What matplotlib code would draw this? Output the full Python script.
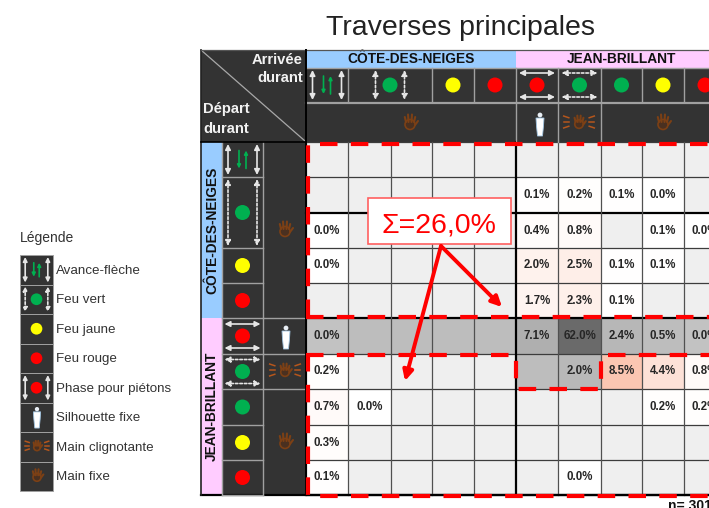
import matplotlib
matplotlib.use('Agg')
import matplotlib.pyplot as plt
import numpy as np
from matplotlib.colors import LinearSegmentedColormap
from matplotlib.patches import Circle, Ellipse, FancyArrowPatch, Polygon, Rectangle

plt.rcParams['font.family'] = ['Liberation Sans', 'DejaVu Sans']

# pourcentages, None = case vide
values = [
	[None, None, None, None, None, None, None, None, None, None],
	[None, None, None, None, None, 0.1, 0.2, 0.1, 0.0, None],
	[0.0, None, None, None, None, 0.4, 0.8, None, 0.1, 0.0],
	[0.0, None, None, None, None, 2.0, 2.5, 0.1, 0.1, None],
	[None, None, None, None, None, 1.7, 2.3, 0.1, None, None],
	[0.0, None, None, None, None, 7.1, 62.0, 2.4, 0.5, 0.0],
	[0.2, None, None, None, None, None, 2.0, 8.5, 4.4, 0.8],
	[0.7, 0.0, None, None, None, None, None, None, 0.2, 0.2],
	[0.3, None, None, None, None, None, None, None, None, None],
	[0.1, None, None, None, None, None, 0.0, None, None, None],
]
# cellules sur fond gris (meme rue, meme phase)
gray_cols_row6 = [5, 6]

street_names = ['CÔTE-DES-NEIGES', 'JEAN-BRILLANT']
top_kinds = ['fleche', 'vert', 'jaune', 'rouge', 'rouge_ped', 'vert_ped', 'vert2', 'jaune', 'rouge']
legend_labels = ['Avance-flèche', 'Feu vert', 'Feu jaune', 'Feu rouge', 'Phase pour piétons',
	'Silhouette fixe', 'Main clignotante', 'Main fixe']
legend_icons = ['fleche', 'vert', 'jaune', 'rouge', 'rouge_pv', 'silhouette', 'blink', 'main']
callout_text = 'Σ=26,0%'
sample_text = 'n= 3010'

# mise en page (pixels)
W, H = 709, 508
col_edges = np.array([306, 348, 391, 432, 474, 516, 558, 601, 642, 684, 726])
row_edges = np.array([142, 177, 213, 248, 283, 318, 354, 389, 425, 460, 495])
spans = [(0, 1), (1, 3), (3, 4), (4, 5), (5, 6), (6, 7), (7, 8), (8, 9), (9, 10)]
DARK = '#333333'
SEP = '#a0a0a0'
GREEN = '#00b050'
YELLOW = '#ffff00'
RED = '#ff0000'
BROWN = '#7c4015'

salmon = LinearSegmentedColormap.from_list('salmon', ['#ffffff', '#fbc6b2'])
grays = LinearSegmentedColormap.from_list('grays', ['#c2c2c2', '#a6a6a6', '#6a6a6a'])


def cell_color(r, c):
	v = values[r][c]
	is_gray = r == 5 or (r == 6 and c in gray_cols_row6)
	if is_gray:
		if v is None:
			return (0.74, 0.74, 0.74)
		return grays((v / 62.0) ** 0.5)[:3]
	if v is None:
		return (0.937, 0.937, 0.937)
	return salmon(min(v / 8.5, 1.0))[:3]


fig = plt.figure(figsize=(W / 100, H / 100), dpi=100)
ax = fig.add_axes([0, 0, 1, 1])
ax.set_xlim(0, W)
ax.set_ylim(H, 0)
ax.axis('off')


def box(x0, y0, x1, y1, fc, ec='none', lw=0, z=1):
	ax.add_patch(Rectangle((x0, y0), x1 - x0, y1 - y0, fc=fc, ec=ec, lw=lw, zorder=z))


def arrow(x0, y0, x1, y1, color='#e6e6e6', lw=1.2, ms=8, ls='-', style='<|-|>', z=5):
	ax.add_patch(FancyArrowPatch((x0, y0), (x1, y1), arrowstyle=style, mutation_scale=ms, color=color,
		lw=lw, linestyle=ls, shrinkA=0, shrinkB=0, zorder=z))


def dot(x, y, color, r=7.5):
	ax.add_patch(Circle((x, y), r, fc=color, ec='none', zorder=5))


def hand(x, y, s=1.0):
	ax.add_patch(Ellipse((x, y + 2.5 * s), 10 * s, 10 * s, fc='#4a3020', ec=BROWN, lw=1.2, zorder=5))
	for dx, top in zip([-4, -1.5, 1.5, 4], [-5, -7.5, -7.5, -5]):
		ax.plot([x + dx * s, x + dx * 1.3 * s], [y, y + top * s], color=BROWN, lw=1.5,
			solid_capstyle='round', zorder=5)
	ax.plot([x + 5 * s, x + 8 * s], [y + 3 * s, y - 1 * s], color=BROWN, lw=1.5, solid_capstyle='round', zorder=5)


def blink_hand(x, y, s=1.0):
	hand(x, y, s)
	for side in [-1, 1]:
		for dy, tilt in zip([-5, 0, 5], [-2, 0, 2]):
			ax.plot([x + side * 12 * s, x + side * 18 * s], [y + dy * s, y + (dy + tilt) * s], color='#b5561c',
				lw=1.1, zorder=5)


def silhouette(x, y, s=1.0):
	ax.add_patch(Circle((x, y - 9 * s), 2.4 * s, fc='#e8eef5', ec='none', zorder=5))
	ax.add_patch(Polygon([[x - 4 * s, y - 6 * s], [x + 4 * s, y - 6 * s], [x + 3.5 * s, y + 2 * s], [x + 2.5 * s, y + 12 * s],
		[x - 2.5 * s, y + 12 * s], [x - 3.5 * s, y + 2 * s]], fc='white', ec='#9fc3e0', lw=0.6, zorder=5))


def signal(kind, x0, y0, x1, y1, s=1.0):
	x, y = (x0 + x1) / 2, (y0 + y1) / 2
	if kind in ('rouge_ped', 'vert_ped'):
		ls = (0, (1.5, 1.2)) if kind == 'vert_ped' else '-'
		for side in [-1, 1]:
			arrow(x - 18, y + side * 12, x + 18, y + side * 12, ls=ls)
		dot(x, y, RED if kind == 'rouge_ped' else GREEN, 7.5)
		return
	if kind in ('fleche', 'vert', 'rouge_pv'):
		ls = (0, (1.5, 1.2)) if kind == 'vert' else '-'
		for side in [-1, 1]:
			arrow(x + side * 14.5 * s, y0 + 2, x + side * 14.5 * s, y1 - 2, ls=ls, ms=8 * s)
	if kind == 'fleche':
		arrow(x - 3.5 * s, y - 9 * s, x - 3.5 * s, y + 9 * s, color=GREEN, lw=1.2, ms=5, style='-|>')
		arrow(x + 3.5 * s, y + 9 * s, x + 3.5 * s, y - 9 * s, color=GREEN, lw=1.2, ms=5, style='-|>')
	elif kind in ('vert', 'vert2'):
		dot(x, y, GREEN, 7.5 * s)
	elif kind == 'jaune':
		dot(x, y, YELLOW, 7.5 * s)
	else:
		dot(x, y, RED, 7.5 * s)


# cellules du tableau
rgb = np.array([[cell_color(r, c) for c in range(len(col_edges) - 1)] for r in range(len(row_edges) - 1)])
ax.pcolormesh(col_edges, row_edges, rgb, zorder=1)

# grille
for y in row_edges:
	thick = y in (213, 318, 495)
	ax.plot([col_edges[0], col_edges[-1]], [y, y], color='black' if thick else '#3c3c3c', lw=1.6 if thick else 0.9, zorder=2)
for x in col_edges:
	thick = x == 516
	ax.plot([x, x], [row_edges[0], row_edges[-1]], color='black' if thick else '#505050', lw=1.6 if thick else 0.9, zorder=2)

# valeurs
for r, row in enumerate(values):
	for c, v in enumerate(row):
		if v is None:
			continue
		cx = (col_edges[c] + col_edges[c + 1]) / 2
		cy = (row_edges[r] + row_edges[r + 1]) / 2
		ax.text(cx, cy, f'{v:.1f}%', ha='center', va='center', fontsize=8.3, fontweight='bold', color='#262626',
			clip_on=True, zorder=3)

# en-tetes haut
box(201, 50, 726, 142, DARK)
box(306, 50, 516, 68, '#99ccff')
box(516, 50, 726, 68, '#ffccff')
ax.text(411, 59, street_names[0], ha='center', va='center', fontsize=9.9, fontweight='bold', color='#111111', zorder=6)
ax.text(621.5, 59, street_names[1], ha='center', va='center', fontsize=9.9, fontweight='bold', color='#111111', zorder=6)
for (a, b), kind in zip(spans, top_kinds):
	signal(kind, col_edges[a], 68, col_edges[b], 102)
	ax.plot([col_edges[b], col_edges[b]], [68, 102], color=SEP, lw=1.0, zorder=4)
ax.plot([306, 726], [68, 68], color=SEP, lw=1.0, zorder=4)
ax.plot([306, 726], [103, 103], color=SEP, lw=1.6, zorder=4)
for x in [516, 558, 601]:
	ax.plot([x, x], [104, 142], color=SEP, lw=1.0, zorder=4)
hand(410, 122)
silhouette(540, 124)
blink_hand(579, 122, 0.85)
hand(663, 122)

# coin
ax.plot([201, 305], [50, 141], color='#a8a8a8', lw=0.9, zorder=4)
ax.text(303, 60, 'Arrivée', ha='right', va='center', fontsize=10.6, fontweight='bold', color='#f2f2f2', zorder=6)
ax.text(303, 78, 'durant', ha='right', va='center', fontsize=10.6, fontweight='bold', color='#f2f2f2', zorder=6)
ax.text(203, 109, 'Départ', ha='left', va='center', fontsize=10.6, fontweight='bold', color='#f2f2f2', zorder=6)
ax.text(203, 129, 'durant', ha='left', va='center', fontsize=10.6, fontweight='bold', color='#f2f2f2', zorder=6)

# en-tetes gauche
box(201, 142, 306, 495, DARK)
box(201, 142, 222, 318, '#99ccff')
box(201, 318, 222, 495, '#ffccff')
ax.text(212, 230, street_names[0], rotation=90, ha='center', va='center', fontsize=9.9, fontweight='bold', color='#111111', zorder=6)
ax.text(212, 406.5, street_names[1], rotation=90, ha='center', va='center', fontsize=9.9, fontweight='bold', color='#111111', zorder=6)
for (a, b), kind in zip(spans, top_kinds):
	signal(kind, 222, row_edges[a], 263, row_edges[b])
	ax.plot([222, 263], [row_edges[b], row_edges[b]], color=SEP, lw=1.0, zorder=4)
ax.plot([263, 263], [142, 495], color=SEP, lw=1.0, zorder=4)
ax.plot([222, 222], [142, 495], color=SEP, lw=1.0, zorder=4)
for y in [318, 354, 389]:
	ax.plot([263, 306], [y, y], color=SEP, lw=1.0, zorder=4)
hand(285, 229)
silhouette(286, 337)
blink_hand(285, 370, 0.85)
hand(285, 441)

# bordures noires
ax.plot([201, 201], [50, 495], color='#222222', lw=1.2, zorder=6)
ax.plot([201, 726], [50, 50], color='#555555', lw=0.9, zorder=6)
ax.plot([201, 726], [495, 495], color='black', lw=1.6, zorder=2)
ax.plot([306, 306], [50, 495], color='black', lw=1.4, zorder=6)
ax.plot([201, 306], [142, 142], color='black', lw=1.2, zorder=6)

# zones pointillees rouges
dash = dict(color=RED, lw=3.0, linestyle=(0, (4.2, 3.2)), dash_capstyle='butt', dash_joinstyle='miter', zorder=7)
ax.plot([308, 308, 726], [317, 144, 144], **dash)
ax.plot([306, 726], [317, 317], **dash)
ax.plot([306, 516, 516, 601, 601, 726], [354.5, 354.5, 389, 389, 354.5, 354.5], **dash)
ax.plot([308, 308, 726], [354, 495.5, 495.5], **dash)

# encadre et fleches
box(368, 198, 511, 244, 'white', ec='#ff6060', lw=1.2, z=8)
ax.text(439, 226, callout_text, ha='center', va='center', fontsize=20.5, color=RED, zorder=9)
arrow(441, 246, 405, 381, color=RED, lw=2.8, ms=15, style='-|>', z=8)
arrow(441, 246, 502, 307, color=RED, lw=2.8, ms=15, style='-|>', z=8)

# titre et n
ax.text(461, 28, 'Traverses principales', ha='center', va='center', fontsize=20.5, color='#222222')
ax.text(668, 506, sample_text, ha='left', va='center', fontsize=10, fontweight='bold', color='#111111', clip_on=True)

# legende
ax.text(20, 238, 'Légende', ha='left', va='center', fontsize=10, color='#333333')
leg_y = np.linspace(255, 491, len(legend_labels) + 1)
for i, (label, kind) in enumerate(zip(legend_labels, legend_icons)):
	y0, y1 = leg_y[i], leg_y[i + 1]
	box(20, y0, 53, y1, DARK, ec=SEP, lw=0.7)
	cy = (y0 + y1) / 2
	if kind == 'silhouette':
		silhouette(37, cy, 0.9)
	elif kind == 'blink':
		blink_hand(37, cy - 1, 0.65)
	elif kind == 'main':
		hand(37, cy - 1, 0.8)
	else:
		signal(kind, 20, y0, 53, y1, 0.78)
	ax.text(56, cy + 1, label, ha='left', va='center', fontsize=9.6, color='#333333')

fig.savefig('out.png', dpi=100)
